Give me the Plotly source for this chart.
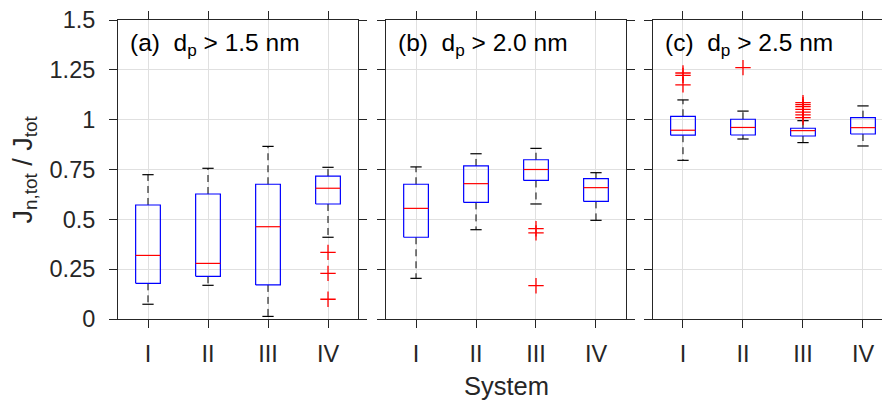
import plotly.graph_objects as go

systems = ["I", "II", "III", "IV"]
yticks = [0, 0.25, 0.5, 0.75, 1, 1.25, 1.5]
yticklabels = ["0", "0.25", "0.5", "0.75", "1", "1.25", "1.5"]
panel_titles = ["(a)  d<sub>p</sub> > 1.5 nm", "(b)  d<sub>p</sub> > 2.0 nm", "(c)  d<sub>p</sub> > 2.5 nm"]

# Panel (a) dp > 1.5 nm
a_low = [0.074, 0.169, 0.013, 0.410]
a_q1 = [0.179, 0.214, 0.171, 0.577]
a_med = [0.319, 0.279, 0.463, 0.656]
a_q3 = [0.572, 0.627, 0.676, 0.717]
a_high = [0.724, 0.756, 0.866, 0.761]
a_out = [[], [], [], [0.334, 0.229, 0.099]]

# Panel (b) dp > 2.0 nm
b_low = [0.204, 0.448, 0.577, 0.495]
b_q1 = [0.410, 0.585, 0.695, 0.590]
b_med = [0.555, 0.679, 0.750, 0.659]
b_q3 = [0.676, 0.768, 0.799, 0.704]
b_high = [0.763, 0.829, 0.856, 0.734]
b_out = [[], [], [0.453, 0.432, 0.167], []]

# Panel (c) dp > 2.5 nm
c_low = [0.796, 0.903, 0.885, 0.868]
c_q1 = [0.922, 0.923, 0.918, 0.928]
c_med = [0.947, 0.961, 0.945, 0.960]
c_q3 = [1.017, 1.002, 0.957, 1.010]
c_high = [1.099, 1.043, 0.995, 1.069]
c_out = [[1.234, 1.222, 1.175], [1.261], [1.085, 1.075, 1.065, 1.052, 1.038, 1.024, 1.010], []]

panels = [
    (a_low, a_q1, a_med, a_q3, a_high, a_out),
    (b_low, b_q1, b_med, b_q3, b_high, b_out),
    (c_low, c_q1, c_med, c_q3, c_high, c_out),
]

BOX_HW = 0.206
CAP_HW = 0.094
FONT = "Liberation Sans, Arial, sans-serif"
AX = "#262626"
GRID = "#e0e0e0"

fig = go.Figure()
domains = [[0.0, 0.3109], [0.3472, 0.6580], [0.6930, 1.0]]
xranges = [[0.5, 4.5], [0.5, 4.5], [0.5, 4.45]]

for p, (lo, q1, md, q3, hi, out) in enumerate(panels):
    xa = "x" if p == 0 else f"x{p+1}"
    ya = "y" if p == 0 else f"y{p+1}"
    pos = list(range(1, len(systems) + 1))
    wx, wy = [], []
    cx, cy = [], []
    bx, by = [], []
    mx, my = [], []
    ox, oy = [], []
    for i, xp in enumerate(pos):
        wx += [xp, xp, None, xp, xp, None]
        wy += [q3[i], hi[i], None, q1[i], lo[i], None]
        cx += [xp - CAP_HW, xp + CAP_HW, None, xp - CAP_HW, xp + CAP_HW, None]
        cy += [hi[i], hi[i], None, lo[i], lo[i], None]
        bx += [xp - BOX_HW, xp + BOX_HW, xp + BOX_HW, xp - BOX_HW, xp - BOX_HW, None]
        by += [q1[i], q1[i], q3[i], q3[i], q1[i], None]
        mx += [xp - BOX_HW, xp + BOX_HW, None]
        my += [md[i], md[i], None]
        for v in out[i]:
            ox.append(xp)
            oy.append(v)
    fig.add_trace(go.Scatter(x=wx, y=wy, mode="lines", xaxis=xa, yaxis=ya,
                             line=dict(color="black", width=1, dash="7px,5px"), showlegend=False))
    fig.add_trace(go.Scatter(x=cx, y=cy, mode="lines", xaxis=xa, yaxis=ya,
                             line=dict(color="black", width=1.2), showlegend=False))
    fig.add_trace(go.Scatter(x=bx, y=by, mode="lines", xaxis=xa, yaxis=ya,
                             line=dict(color="#0000ff", width=1.2), showlegend=False))
    fig.add_trace(go.Scatter(x=mx, y=my, mode="lines", xaxis=xa, yaxis=ya,
                             line=dict(color="#ff0000", width=1.2), showlegend=False))
    fig.add_trace(go.Scatter(x=ox, y=oy, mode="markers", xaxis=xa, yaxis=ya,
                             marker=dict(symbol="cross-thin", size=11,
                                         line=dict(color="#ff0000", width=1.3)),
                             showlegend=False))

# page body has an 8px margin, so the figure is drawn 8px in from the top-left corner
layout = dict(
    width=882, height=393,
    margin=dict(l=110, r=0, t=12, b=82, autoexpand=False),
    plot_bgcolor="white", paper_bgcolor="white",
    font=dict(family=FONT, size=23, color=AX),
)
for p in range(3):
    xk = "xaxis" if p == 0 else f"xaxis{p+1}"
    yk = "yaxis" if p == 0 else f"yaxis{p+1}"
    ya = "y" if p == 0 else f"y{p+1}"
    xa = "x" if p == 0 else f"x{p+1}"
    layout[xk] = dict(
        domain=domains[p], range=xranges[p], anchor=ya,
        tickvals=[1, 2, 3, 4], ticktext=systems,
        showline=True, linecolor=AX, linewidth=1, mirror="ticks",
        ticks="outside", ticklen=8, tickcolor=AX, tickwidth=1,
        showgrid=True, gridcolor=GRID, gridwidth=1, zeroline=False,
        tickfont=dict(size=23.5, color=AX, family=FONT), ticklabelstandoff=6,
        automargin=False, ticklabeloverflow="allow",
    )
    layout[yk] = dict(
        domain=[0, 1], range=[0, 1.5], anchor=xa,
        tickvals=yticks, ticktext=yticklabels,
        showticklabels=(p == 0),
        showline=True, linecolor=AX, linewidth=1,
        mirror=("ticks" if p < 2 else False),
        ticks="outside", ticklen=8, tickcolor=AX, tickwidth=1,
        showgrid=True, gridcolor=GRID, gridwidth=1, zeroline=False,
        tickfont=dict(size=23.5, color=AX, family=FONT), ticklabelstandoff=9,
        automargin=False, ticklabeloverflow="allow",
    )
fig.update_layout(**layout)

for p in range(3):
    xa = "x" if p == 0 else f"x{p+1}"
    ya = "y" if p == 0 else f"y{p+1}"
    fig.add_annotation(text=panel_titles[p], xref=f"{xa} domain", yref=f"{ya} domain",
                       x=0, y=1, xanchor="left", yanchor="top", xshift=10, yshift=-7,
                       showarrow=False, font=dict(size=24.5, color="black", family=FONT))

fig.add_annotation(text="System", xref="paper", yref="paper",
                   x=(506 - 118) / 772, y=0, yshift=-67, xanchor="center", yanchor="middle",
                   showarrow=False, font=dict(size=25.5, color=AX, family=FONT))
fig.add_annotation(text="J<sub>n,tot</sub> / J<sub>tot</sub>", xref="paper", yref="paper",
                   x=(24 - 118) / 772, y=0.5, xanchor="center", yanchor="middle", textangle=-90,
                   showarrow=False, font=dict(size=27, color=AX, family=FONT))

fig.write_html("out.html")
